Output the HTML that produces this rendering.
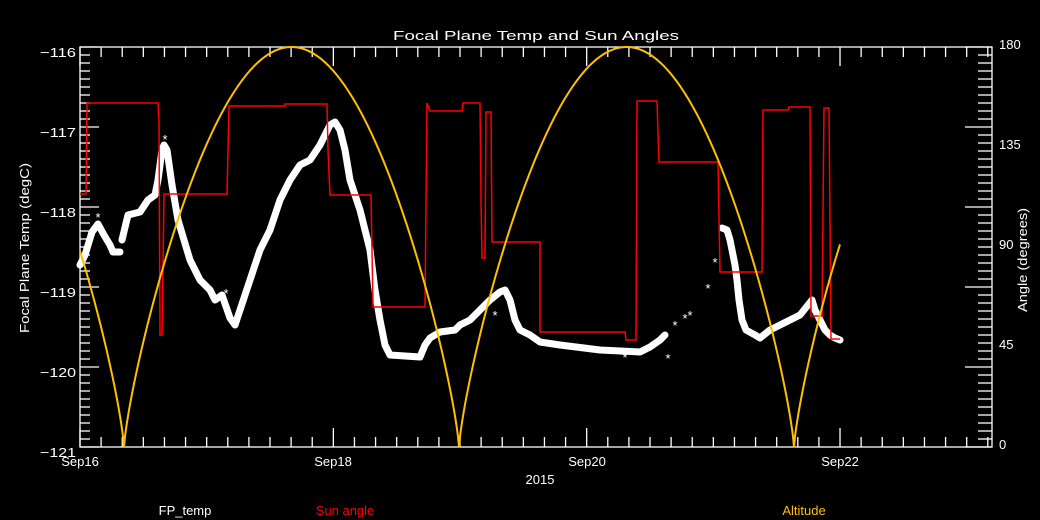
<!DOCTYPE html>
<html><head><meta charset="utf-8"><style>
html,body{margin:0;padding:0;background:#000;}
svg{display:block;font-family:"Liberation Sans","DejaVu Sans",sans-serif;}
text{fill:#fff;font-size:13px;}
</style></head><body>
<svg id="s" width="1040" height="520" viewBox="0 0 1040 520" xmlns="http://www.w3.org/2000/svg">
<rect width="1040" height="520" fill="#000"/>
<text x="393" y="40" font-size="14" textLength="286" lengthAdjust="spacingAndGlyphs">Focal Plane Temp and Sun Angles</text>
<g>
<text x="40" y="57" textLength="36" lengthAdjust="spacingAndGlyphs">−116</text><text x="40" y="137" textLength="36" lengthAdjust="spacingAndGlyphs">−117</text><text x="40" y="217" textLength="36" lengthAdjust="spacingAndGlyphs">−118</text>
<text x="40" y="297" textLength="36" lengthAdjust="spacingAndGlyphs">−119</text><text x="40" y="377" textLength="36" lengthAdjust="spacingAndGlyphs">−120</text><text x="40" y="457" textLength="36" lengthAdjust="spacingAndGlyphs">−121</text>
</g>
<g text-anchor="start">
<text x="999" y="49">180</text><text x="999" y="149">135</text><text x="999" y="249">90</text>
<text x="999" y="349">45</text><text x="999" y="449">0</text>
</g>
<text transform="translate(29,333) rotate(-90)" textLength="170" lengthAdjust="spacingAndGlyphs">Focal Plane Temp (degC)</text>
<text transform="translate(1027,312) rotate(-90)" textLength="104" lengthAdjust="spacingAndGlyphs">Angle (degrees)</text>
<g text-anchor="middle">
<text x="80" y="466">Sep16</text><text x="333" y="466">Sep18</text><text x="587" y="466">Sep20</text><text x="840" y="466">Sep22</text>
<text x="540" y="484">2015</text>
</g>
<text x="185" y="515" text-anchor="middle">FP_temp</text>
<text x="345" y="515" text-anchor="middle" style="fill:#f00">Sun angle</text>
<text x="804" y="515" text-anchor="middle" style="fill:#ffc000">Altitude</text>
<g id="axes" stroke="#fff" stroke-width="1.3" fill="none"></g>
<polyline fill="none" stroke="#fff" stroke-width="7" stroke-linejoin="round" stroke-linecap="round" points="80,265 85,255 92,232 98,224 104,235 110,245 113,252 120,252"/>
<polyline fill="none" stroke="#fff" stroke-width="7" stroke-linejoin="round" stroke-linecap="round" points="122,240 128,215 140,212 148,200 155,195 158,180 162,150 164,145 167,150 172,185 178,220 190,260 200,280 210,290 215,300 222,295 230,318 235,325 240,310 250,280 260,250 270,230 280,200 290,180 300,165 310,160 320,145 330,125 335,122 340,130 345,150 350,180 360,210 370,250 375,290 380,320 385,345 390,355 420,357 425,345 430,338 440,332 455,330 460,325 470,320 480,310 490,300 500,292 505,290 510,300 515,320 520,330 530,335 540,342 560,345 600,350 640,352 650,347 660,340 665,335"/>
<polyline fill="none" stroke="#fff" stroke-width="7" stroke-linejoin="round" stroke-linecap="round" points="722,228 727,230 730,240 732,250 735,265 737,280 739,300 742,320 746,330 755,335 760,338 770,330 780,325 790,320 800,315 808,305 812,300 815,310 820,320 825,330 830,335 835,338 840,340"/>
<g fill="#fff" font-size="13" text-anchor="middle">
<text x="668" y="363">*</text><text x="675" y="330">*</text><text x="685" y="323">*</text><text x="690" y="320">*</text><text x="708" y="293">*</text><text x="715" y="267">*</text><text x="165" y="144">*</text><text x="98" y="222">*</text><text x="226" y="298">*</text><text x="495" y="320">*</text><text x="625" y="362">*</text>
</g>
<polyline fill="none" stroke="#f00" stroke-width="1.5" points="80,194 86,194 87,103 158,103 159,120 160,335 162,335 164,194 227,194 229,106 285,106 285,104 327,104 328,150 330,195 371,195 373,307 425,307 427,103 430,111 462,111 463,103 480,103 481,200 482,258 485,258 486,112 491,112 492,242 540,242 540,332 625,332 626,340 636,340 637,101 657,101 659,162 718,162 720,272 762,272 763,110 788,110 789,107 810,107 811,316 822,316 824,108 829,108 831,339 840,339"/>
<polyline id="alt" fill="none" stroke="#ffc000" stroke-width="2"/>
</svg>
<script>
var ax=document.getElementById('axes'),h='';
h+='<rect x="80" y="47" width="912" height="400"/>';
for(var i=0;i<=50;i++){var y=47+i*8,l=(i%10==0)?19:10;h+='<line x1="80" y1="'+y+'" x2="'+(80+l)+'" y2="'+y+'"/>';}
for(var i=0;i<=50;i++){var y=47+i*8,l=(i%10==0)?27:14;h+='<line x1="992" y1="'+y+'" x2="'+(992-l)+'" y2="'+y+'"/>';}
var d=126.67;
for(var i=0;i<=43;i++){var x=80+i*d/6;if(x>992)break;var l=(i%12==0)?19:10;
h+='<line x1="'+x+'" y1="447" x2="'+x+'" y2="'+(447-l)+'"/>';h+='<line x1="'+x+'" y1="47" x2="'+x+'" y2="'+(47+l)+'"/>';}
ax.innerHTML=h;
var p=[];
for(var x=80;x<=840;x+=1){var s=Math.abs(Math.sin(Math.PI*(x-124)/335));var a=180*Math.pow(s,0.78);p.push(x+','+(447-a*400/180).toFixed(1));}
document.getElementById('alt').setAttribute('points',p.join(' '));
</script>
</body></html>
